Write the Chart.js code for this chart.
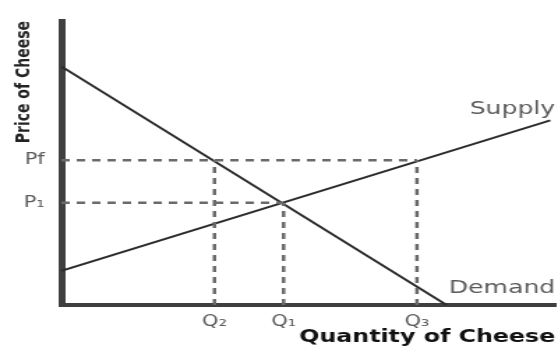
<!DOCTYPE html>
<html lang="en">
<head>
    <meta charset="UTF-8">
    <title>Price floor - Cheese</title>
    <script src="https://cdn.jsdelivr.net/npm/chart.js"></script>
    <style>
        body {
            margin: 0;
            background: #fff;
            overflow: hidden;
        }

        /* the source picture is stretched sideways, so the chart is drawn narrow and widened */
        .quadro {
            width: 400px;
            height: 346px;
            transform: scaleX(1.395);
            transform-origin: 0 0;
        }
    </style>
</head>
<body>

    <div class="quadro">
        <canvas id="graficoQueijo" width="400" height="346"></canvas>
    </div>

    <script>
        // ticks on the axes
        const quantidadeTicks = [31, 45, 72];
        const quantidadeLabels = ["Q\u2082", "Q\u2081", "Q\u2083"];
        const precoTicks = [36, 51];
        const precoLabels = ["P\u2081", "Pf"];

        // curves (quantity, price)
        const demandaQ = [0, 78];
        const demandaP = [84, 0];
        const ofertaQ = [0, 99];
        const ofertaP = [12, 65];

        // curve names, placed at (quantity, price)
        const nomesCurvas = ["Supply", "Demand"];
        const nomesQ = [100, 100];
        const nomesP = [69, 6];

        const Q2 = quantidadeTicks[0], Q1 = quantidadeTicks[1], Q3 = quantidadeTicks[2];
        const P1 = precoTicks[0], Pf = precoTicks[1];

        function linha(xs, ys) {
            return xs.map((x, i) => ({ x: x, y: ys[i] }));
        }

        const tracejado = {
            borderColor: "#6a6a6a",
            borderWidth: 2.5,
            borderDash: [6, 5],
            pointRadius: 0
        };

        const datasets = [
            { ...tracejado, data: linha([0, Q3], [Pf, Pf]) },
            { ...tracejado, data: linha([0, Q1], [P1, P1]) },
            { ...tracejado, data: linha([Q2, Q2], [0, Pf]) },
            { ...tracejado, data: linha([Q1, Q1], [0, P1]) },
            { ...tracejado, data: linha([Q3, Q3], [0, Pf]) },
            { data: linha(demandaQ, demandaP), borderColor: "#2b2b2b", borderWidth: 2, pointRadius: 0 },
            { data: linha(ofertaQ, ofertaP), borderColor: "#2b2b2b", borderWidth: 2, pointRadius: 0 }
        ];

        const nomesPlugin = {
            id: "nomes",
            afterDatasetsDraw(chart) {
                const ctx = chart.ctx;
                const sx = chart.scales.x, sy = chart.scales.y;
                ctx.save();
                ctx.font = "18px 'DejaVu Sans'";
                ctx.fillStyle = "#5a5a5a";
                ctx.textAlign = "right";
                ctx.textBaseline = "middle";
                nomesCurvas.forEach((t, i) => {
                    ctx.fillText(t, sx.getPixelForValue(nomesQ[i]), sy.getPixelForValue(nomesP[i]));
                });
                ctx.restore();
            }
        };

        new Chart(document.getElementById("graficoQueijo"), {
            type: "line",
            data: { datasets: datasets },
            plugins: [nomesPlugin],
            options: {
                responsive: false,
                animation: false,
                layout: { padding: { top: 9, right: 2, left: 0, bottom: 0 } },
                plugins: {
                    legend: { display: false },
                    tooltip: { enabled: false }
                },
                scales: {
                    x: {
                        type: "linear",
                        min: 0,
                        max: 100,
                        afterFit: s => { s.height = 41; },
                        afterBuildTicks: s => { s.ticks = quantidadeTicks.map(v => ({ value: v })); },
                        grid: { display: false, drawTicks: false },
                        border: { color: "#3f3f3f", width: 4 },
                        ticks: {
                            autoSkip: false,
                            maxRotation: 0,
                            padding: 8,
                            color: "#5a5a5a",
                            font: { family: "'DejaVu Sans'", size: 15 },
                            callback: (v, i) => quantidadeLabels[i]
                        },
                        title: {
                            display: true,
                            text: "Quantity of Cheese",
                            align: "end",
                            color: "#111",
                            padding: 0,
                            font: { family: "'DejaVu Sans'", size: 17, weight: "bold", lineHeight: 1.0 }
                        }
                    },
                    y: {
                        type: "linear",
                        min: 0,
                        max: 100,
                        afterFit: s => { s.width = 44; },
                        afterBuildTicks: s => { s.ticks = precoTicks.map(v => ({ value: v })); },
                        grid: { display: false, drawTicks: false },
                        border: { color: "#3f3f3f", width: 5 },
                        ticks: {
                            autoSkip: false,
                            padding: 12,
                            color: "#5a5a5a",
                            font: { family: "'DejaVu Sans'", size: 15 },
                            callback: (v, i) => precoLabels[i]
                        },
                        title: {
                            display: true,
                            text: "Price of Cheese",
                            align: "end",
                            color: "#222",
                            padding: { top: 10 },
                            font: { family: "'DejaVu Sans'", size: 14, weight: "bold", lineHeight: 1.0 }
                        }
                    }
                }
            }
        });
    </script>

</body>
</html>
